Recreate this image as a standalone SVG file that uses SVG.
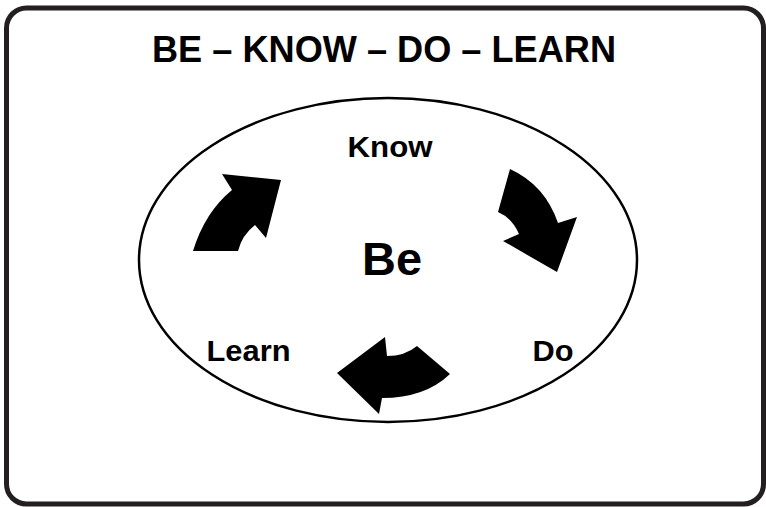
<svg xmlns="http://www.w3.org/2000/svg" width="766" height="507" viewBox="0 0 766 507">
<style>
.t{font-family:"Liberation Sans",Arial,sans-serif;font-weight:bold;fill:#000}
.arrow{fill:#000}
</style>
<rect x="0" y="0" width="766" height="507" fill="#fff"/>
<rect x="6.5" y="8" width="757" height="496" rx="20" ry="20" fill="#fff" stroke="#231f20" stroke-width="5"/>
<text class="t" x="152" y="62" font-size="36" textLength="464" lengthAdjust="spacingAndGlyphs">BE – KNOW – DO – LEARN</text>
<g id="cycle">
<ellipse cx="388" cy="260" rx="249" ry="162" fill="none" stroke="#000" stroke-width="2.5"/>
</g>
<g id="be"><text class="t" x="362" y="275" font-size="46" textLength="60" lengthAdjust="spacingAndGlyphs">Be</text></g>
<g id="know"><text class="t" x="347.5" y="157" font-size="30" textLength="85" lengthAdjust="spacingAndGlyphs">Know</text></g>
<g id="do"><text class="t" x="532.5" y="361" font-size="30" textLength="41" lengthAdjust="spacingAndGlyphs">Do</text></g>
<g id="learn"><text class="t" x="206.5" y="361" font-size="30" textLength="84" lengthAdjust="spacingAndGlyphs">Learn</text></g>
<g id="connectors">
<path class="arrow" d="M193,251 Q205,212 232,190 L222,174 L281,180 L266,238 L255,225 Q242,235 238,251 Z"/>
<path class="arrow" d="M510,169 Q545,185 558,223 L577,217 L557,272 L503,241 L519,234 Q512,218 498,212 Z"/>
<path class="arrow" d="M417,346 Q405,356 387,356 L385,337 L337,373 L379,414 L382,398 Q425,398 450,374 Z"/>
</g>
</svg>
